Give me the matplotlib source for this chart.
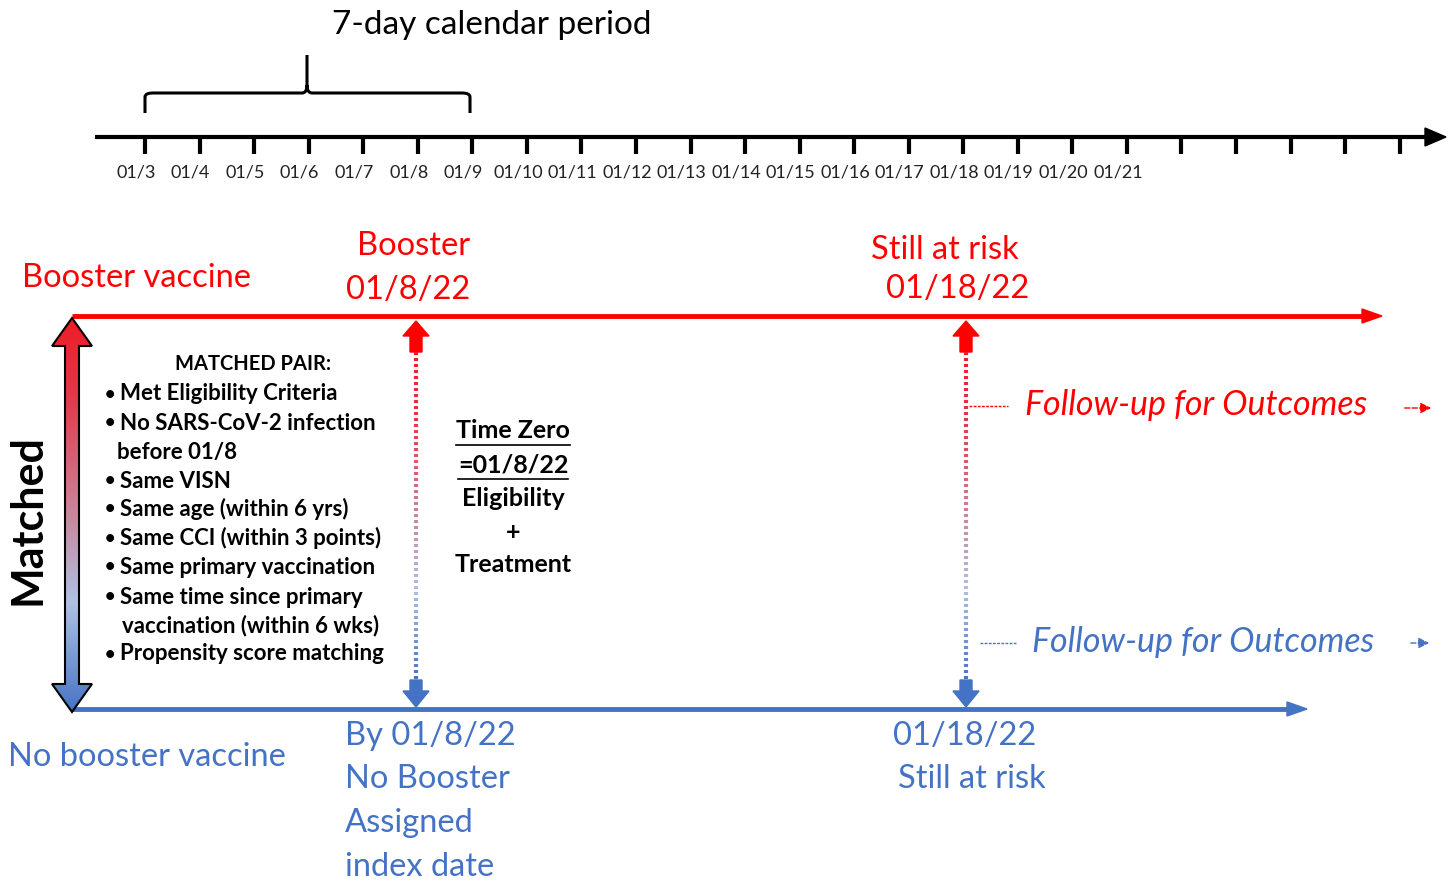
import numpy as np
import matplotlib
matplotlib.use("Agg")
import matplotlib.pyplot as plt
from matplotlib.path import Path
from matplotlib.patches import PathPatch, Polygon
from matplotlib.colors import LinearSegmentedColormap
from matplotlib.collections import LineCollection

plt.rcParams['font.family'] = ['Lato', 'DejaVu Sans']

# ---- content ----
date_labels = ["01/3", "01/4", "01/5", "01/6", "01/7", "01/8", "01/9", "01/10",
               "01/11", "01/12", "01/13", "01/14", "01/15", "01/16", "01/17",
               "01/18", "01/19", "01/20", "01/21"]
n_extra_ticks = 5
period_title = "7-day calendar period"
matched_items = ["Met Eligibility Criteria",
                 "No SARS-CoV-2 infection",
                 "before 01/8",
                 "Same VISN",
                 "Same age (within 6 yrs)",
                 "Same CCI (within 3 points)",
                 "Same primary vaccination",
                 "Same time since primary",
                 "vaccination (within 6 wks)",
                 "Propensity score matching"]
item_bullet = [True, True, False, True, True, True, True, True, False, True]
time_zero_lines = ["Time Zero", "=01/8/22", "Eligibility", "+", "Treatment"]
no_booster_lines = ["By 01/8/22", "No Booster", "Assigned", "index date"]

RED = "#FF0000"
BLUE = "#4472C4"
cmap = LinearSegmentedColormap.from_list(
    "rb", [(0, "#EE1C25"), (0.2, "#E3384A"), (0.5, "#C9879D"),
           (0.72, "#AFC1E4"), (1, BLUE)])

fig = plt.figure(figsize=(14.53, 8.82), dpi=100)
ax = fig.add_axes([0, 0, 1, 1])
ax.set_xlim(0, 1453)
ax.set_ylim(882, 0)
ax.axis('off')

# ---- calendar axis ----
ax_y = 137
ax.plot([95, 1430], [ax_y, ax_y], color="black", lw=3, solid_capstyle='butt')
ax.add_patch(Polygon([[1425, ax_y - 9], [1446, ax_y], [1425, ax_y + 9]],
                     closed=True, color="black"))
step = 54.55
n_ticks = len(date_labels) + n_extra_ticks
for i in range(n_ticks):
    x = 145 + i * step
    ax.plot([x, x], [ax_y, ax_y + 17], color="black", lw=3, solid_capstyle='butt')
    if i < len(date_labels):
        ax.text(x - 9, 173, date_labels[i], ha="center", va="center",
                fontsize=13, color="#222222")

# curly bracket over the 7-day period
x0, x1, xm = 145, 470, 307
yb, yt, yp = 113, 93, 55
verts = [(x0, yb), (x0, yt + 4), (x0, yt), (x0 + 8, yt),
         (xm - 5, yt), (xm, yt), (xm, yt - 8), (xm, yp),
         (xm, yt - 8), (xm, yt), (xm + 5, yt),
         (x1 - 8, yt), (x1, yt), (x1, yt + 4), (x1, yb)]
codes = [Path.MOVETO, Path.LINETO, Path.CURVE3, Path.CURVE3,
         Path.LINETO, Path.CURVE3, Path.CURVE3, Path.LINETO,
         Path.MOVETO, Path.CURVE3, Path.CURVE3,
         Path.LINETO, Path.CURVE3, Path.CURVE3, Path.LINETO]
ax.add_patch(PathPatch(Path(verts, codes), fill=False, lw=2.2, color="black"))
ax.text(492, 25, period_title, ha="center", va="center", fontsize=24)

# ---- group timelines ----
red_y, blue_y = 316, 709
ax.plot([72, 1365], [red_y, red_y], color=RED, lw=3.5, solid_capstyle='butt')
ax.add_patch(Polygon([[1362, red_y - 7], [1382, red_y], [1362, red_y + 7]], color=RED))
ax.plot([72, 1290], [blue_y, blue_y], color=BLUE, lw=3.5, solid_capstyle='butt')
ax.add_patch(Polygon([[1287, blue_y - 7], [1307, blue_y], [1287, blue_y + 7]], color=BLUE))

big = 23.5
ax.text(22, 278, "Booster vaccine", ha="left", va="center", fontsize=big, color=RED)
ax.text(414, 246, "Booster", ha="center", va="center", fontsize=big, color=RED)
ax.text(408, 290, "01/8/22", ha="center", va="center", fontsize=big, color=RED)
ax.text(945, 250, "Still at risk", ha="center", va="center", fontsize=big, color=RED)
ax.text(958, 289, "01/18/22", ha="center", va="center", fontsize=big, color=RED)

ax.text(8, 757, "No booster vaccine", ha="left", va="center", fontsize=big, color=BLUE)
for k, line in enumerate(no_booster_lines):
    ax.text(345, 736 + k * 43.5, line, ha="left", va="center", fontsize=big, color=BLUE)
ax.text(893, 736, "01/18/22", ha="left", va="center", fontsize=big, color=BLUE)
ax.text(898, 779, "Still at risk", ha="left", va="center", fontsize=big, color=BLUE)

# ---- matched gradient double arrow ----
cx, ytop, ybot = 72, 318, 712
arrow_pts = [(cx, ytop), (cx + 20, ytop + 28), (cx + 7, ytop + 28), (cx + 7, ybot - 28),
             (cx + 20, ybot - 28), (cx, ybot), (cx - 20, ybot - 28), (cx - 7, ybot - 28),
             (cx - 7, ytop + 28), (cx - 20, ytop + 28), (cx, ytop)]
clip = PathPatch(Path(arrow_pts, closed=True), facecolor="none", edgecolor="none")
ax.add_patch(clip)
grad = np.linspace(0, 1, 256).reshape(-1, 1)
im = ax.imshow(grad, cmap=cmap, extent=(cx - 22, cx + 22, ybot + 2, ytop - 2),
               origin="upper", aspect="auto", zorder=2)
im.set_clip_path(clip)
ax.add_patch(PathPatch(Path(arrow_pts, closed=True), facecolor="none",
                       edgecolor="black", lw=1.5, zorder=3))
ax.set_xlim(0, 1453)
ax.set_ylim(882, 0)

ax.text(28, 520, "Matched", rotation=90, ha="center", va="center",
        fontsize=31, fontweight="bold")

# matched pair criteria
ax.text(253, 364, "MATCHED PAIR:", ha="center", va="center", fontsize=14.5, fontweight="bold")
ys = [394, 423, 452, 481, 509, 538, 567, 597, 626, 654]
for y, item, has_bullet in zip(ys, matched_items, item_bullet):
    if has_bullet:
        ax.text(110, y, "•", ha="center", va="center", fontsize=13, fontweight="bold")
        ax.text(120, y, item, ha="left", va="center", fontsize=16, fontweight="bold")
    else:
        ax.text(117 if y < 500 else 122, y, item, ha="left", va="center",
                fontsize=16, fontweight="bold")


# ---- gradient dotted connectors with block arrows ----
def connector(x):
    yy = np.arange(352, 680, 6.0)
    segs = [[(x, y), (x, y + 3.2)] for y in yy]
    cols = cmap((yy - 352) / (680 - 352))
    ax.add_collection(LineCollection(segs, colors=cols, linewidths=3))
    ax.add_patch(Polygon([[x, 321], [x + 13, 336], [x + 6, 336], [x + 6, 352],
                          [x - 6, 352], [x - 6, 336], [x - 13, 336]], color=RED))
    ax.add_patch(Polygon([[x - 6, 680], [x + 6, 680], [x + 6, 691], [x + 13, 691],
                          [x, 707], [x - 13, 691], [x - 6, 691]], color=BLUE))


connector(416)
connector(966)

# time zero note
tz_ys = [431, 465, 498, 533, 565]
for y, line in zip(tz_ys, time_zero_lines):
    ax.text(513, y, line, ha="center", va="center", fontsize=18, fontweight="bold")
for y, half in [(445, 57), (479, 55)]:
    ax.plot([513 - half, 513 + half], [y, y], color="black", lw=1.2)

# follow-up labels
ax.plot([969, 1008], [406, 406], color=RED, lw=1, ls=(0, (2, 1)))
ax.text(1025, 405, "Follow-up for Outcomes", ha="left", va="center",
        fontsize=24.5, style="italic", color=RED)
ax.annotate("", xy=(1434, 408), xytext=(1402, 408),
            arrowprops=dict(arrowstyle="-|>", color=RED, lw=1, ls="--", mutation_scale=16))
ax.plot([980, 1016], [643, 643], color=BLUE, lw=1, ls=(0, (2, 1)))
ax.text(1032, 642, "Follow-up for Outcomes", ha="left", va="center",
        fontsize=24.5, style="italic", color=BLUE)
ax.annotate("", xy=(1432, 643), xytext=(1408, 643),
            arrowprops=dict(arrowstyle="-|>", color=BLUE, lw=1, ls="--", mutation_scale=16))

fig.savefig("out.png", dpi=100)
